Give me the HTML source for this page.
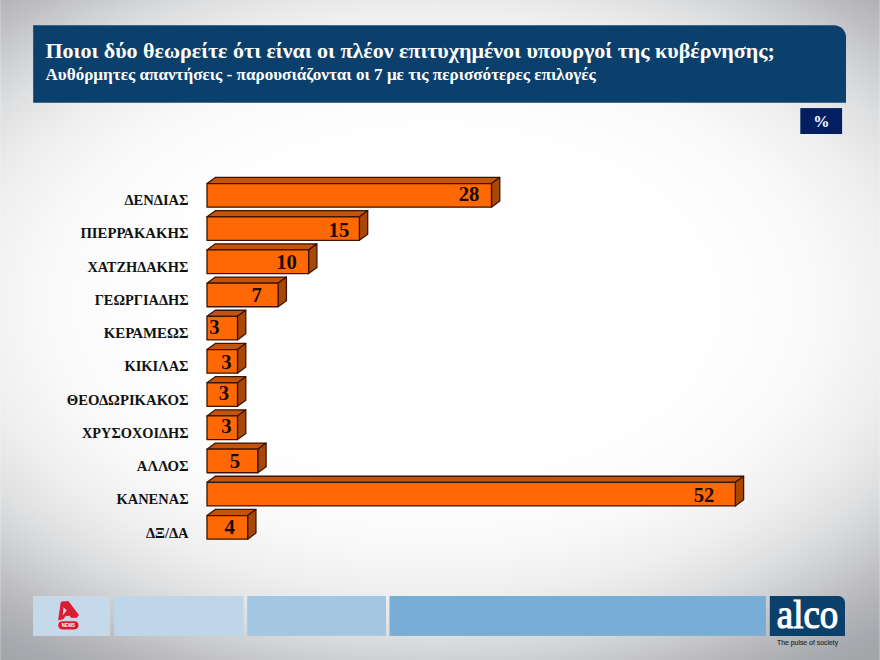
<!DOCTYPE html>
<html lang="el"><head><meta charset="utf-8"><title>alco</title>
<style>
html,body{margin:0;padding:0;}
body{width:880px;height:660px;overflow:hidden;position:relative;font-family:"Liberation Serif",serif;
background:
 radial-gradient(ellipse 440px 276.7px at 433.3px 302.6px, #ffffff 0%, #ffffff 40%, #ffffff 45%, #ffffff 50%, #fefeff 55%, #fefefe 60%, #fefefe 65%, #fdfdfd 70%, #fcfcfc 75%, #fbfbfb 80%, #fafafa 85%, #f8f8f8 90%, #f5f5f6 95%, #f2f2f3 100%, #efeff0 105%, #eaeaeb 110%, #e5e5e6 115%, #dedfe0 120%, #d7d8da 125%, #cfd0d2 130%, #c7c8ca 135%, #bfbfc2 140%, #b7b7bb 145%, #afb0b4 150%, #a9aaaf 155%, #a5a6aa 160%, #a2a3a7 165%, #a0a1a6 170%, #9fa0a4 175%, #9e9fa4 180%, #9e9fa4 185%);
}
svg{position:absolute;left:0;top:0;}
.v{font:bold 20.7px "Liberation Serif",serif;fill:#1a0800;}
.l{font:bold 14.6px "Liberation Serif",serif;fill:#111;}
.t1{font:bold 22px "Liberation Serif",serif;fill:#fff;}
.t2{font:bold 17.1px "Liberation Serif",serif;fill:#fff;}
.pc{font:bold 16.3px "Liberation Serif",serif;fill:#fff;}
.alco{font:39px "Liberation Serif",serif;fill:#fff;stroke:#fff;stroke-width:1.1px;}
.pulse{font:6.85px "Liberation Sans",sans-serif;fill:#2a2a2c;stroke:#2a2a2c;stroke-width:0.15px;}
</style></head><body>
<svg width="880" height="660" viewBox="0 0 880 660">
<rect x="0" y="0" width="1.2" height="660" fill="#ffffff" fill-opacity="0.2"/>
<rect x="878.8" y="0" width="1.2" height="660" fill="#ffffff" fill-opacity="0.2"/>
<path fill="#0b406d" d="M33.2 25.2H834A12 12 0 0 1 846 37.2V102.7H33.2Z"/>
<text class="t1" x="45.5" y="58" textLength="729.3" lengthAdjust="spacingAndGlyphs">Ποιοι δύο θεωρείτε ότι είναι οι πλέον επιτυχημένοι υπουργοί της κυβέρνησης;</text>
<text class="t2" x="45.5" y="80" textLength="550.3" lengthAdjust="spacingAndGlyphs">Αυθόρμητες απαντήσεις - παρουσιάζονται οι 7 με τις περισσότερες επιλογές</text>
<rect x="800.3" y="108.1" width="41.8" height="25.9" fill="#031f60"/>
<text class="pc" x="821.4" y="127.1" text-anchor="middle">%</text>
<g stroke="#3d1400" stroke-width="1.3" stroke-linejoin="round">
<path fill="#c5540a" d="M207.00 183.55L215.30 177.45L499.78 177.45L491.48 183.55Z"/>
<path fill="#a84806" d="M491.48 183.55L499.78 177.45L499.78 201.05L491.48 207.15Z"/>
<path fill="#ff6803" d="M207.00 183.55H491.48V207.15H207.00Z"/>
</g>
<text class="v" x="469.0" y="200.90" text-anchor="middle">28</text>
<text class="l" x="124.4" y="205.10" textLength="64.2" lengthAdjust="spacingAndGlyphs">ΔΕΝΔΙΑΣ</text>
<g stroke="#3d1400" stroke-width="1.3" stroke-linejoin="round">
<path fill="#c5540a" d="M207.00 216.75L215.30 210.65L367.70 210.65L359.40 216.75Z"/>
<path fill="#a84806" d="M359.40 216.75L367.70 210.65L367.70 234.25L359.40 240.35Z"/>
<path fill="#ff6803" d="M207.00 216.75H359.40V240.35H207.00Z"/>
</g>
<text class="v" x="338.9" y="236.60" text-anchor="middle">15</text>
<text class="l" x="80.4" y="238.34" textLength="108.2" lengthAdjust="spacingAndGlyphs">ΠΙΕΡΡΑΚΑΚΗΣ</text>
<g stroke="#3d1400" stroke-width="1.3" stroke-linejoin="round">
<path fill="#c5540a" d="M207.00 249.95L215.30 243.85L316.90 243.85L308.60 249.95Z"/>
<path fill="#a84806" d="M308.60 249.95L316.90 243.85L316.90 267.45L308.60 273.55Z"/>
<path fill="#ff6803" d="M207.00 249.95H308.60V273.55H207.00Z"/>
</g>
<text class="v" x="286.6" y="269.40" text-anchor="middle">10</text>
<text class="l" x="87.4" y="271.58" textLength="101.0" lengthAdjust="spacingAndGlyphs">ΧΑΤΖΗΔΑΚΗΣ</text>
<g stroke="#3d1400" stroke-width="1.3" stroke-linejoin="round">
<path fill="#c5540a" d="M207.00 283.15L215.30 277.05L286.42 277.05L278.12 283.15Z"/>
<path fill="#a84806" d="M278.12 283.15L286.42 277.05L286.42 300.65L278.12 306.75Z"/>
<path fill="#ff6803" d="M207.00 283.15H278.12V306.75H207.00Z"/>
</g>
<text class="v" x="256.6" y="301.60" text-anchor="middle">7</text>
<text class="l" x="94.7" y="304.82" textLength="93.9" lengthAdjust="spacingAndGlyphs">ΓΕΩΡΓΙΑΔΗΣ</text>
<g stroke="#3d1400" stroke-width="1.3" stroke-linejoin="round">
<path fill="#c5540a" d="M207.00 316.35L215.30 310.25L245.78 310.25L237.48 316.35Z"/>
<path fill="#a84806" d="M237.48 316.35L245.78 310.25L245.78 333.85L237.48 339.95Z"/>
<path fill="#ff6803" d="M207.00 316.35H237.48V339.95H207.00Z"/>
</g>
<text class="v" x="214.4" y="333.60" text-anchor="middle">3</text>
<text class="l" x="103.7" y="338.06" textLength="84.9" lengthAdjust="spacingAndGlyphs">ΚΕΡΑΜΕΩΣ</text>
<g stroke="#3d1400" stroke-width="1.3" stroke-linejoin="round">
<path fill="#c5540a" d="M207.00 349.55L215.30 343.45L245.78 343.45L237.48 349.55Z"/>
<path fill="#a84806" d="M237.48 349.55L245.78 343.45L245.78 367.05L237.48 373.15Z"/>
<path fill="#ff6803" d="M207.00 349.55H237.48V373.15H207.00Z"/>
</g>
<text class="v" x="226.5" y="369.05" text-anchor="middle">3</text>
<text class="l" x="124.4" y="371.30" textLength="64.2" lengthAdjust="spacingAndGlyphs">ΚΙΚΙΛΑΣ</text>
<g stroke="#3d1400" stroke-width="1.3" stroke-linejoin="round">
<path fill="#c5540a" d="M207.00 382.75L215.30 376.65L245.78 376.65L237.48 382.75Z"/>
<path fill="#a84806" d="M237.48 382.75L245.78 376.65L245.78 400.25L237.48 406.35Z"/>
<path fill="#ff6803" d="M207.00 382.75H237.48V406.35H207.00Z"/>
</g>
<text class="v" x="224.0" y="400.00" text-anchor="middle">3</text>
<text class="l" x="66.7" y="404.54" textLength="121.9" lengthAdjust="spacingAndGlyphs">ΘΕΟΔΩΡΙΚΑΚΟΣ</text>
<g stroke="#3d1400" stroke-width="1.3" stroke-linejoin="round">
<path fill="#c5540a" d="M207.00 415.95L215.30 409.85L245.78 409.85L237.48 415.95Z"/>
<path fill="#a84806" d="M237.48 415.95L245.78 409.85L245.78 433.45L237.48 439.55Z"/>
<path fill="#ff6803" d="M207.00 415.95H237.48V439.55H207.00Z"/>
</g>
<text class="v" x="226.4" y="433.30" text-anchor="middle">3</text>
<text class="l" x="82" y="437.78" textLength="106.6" lengthAdjust="spacingAndGlyphs">ΧΡΥΣΟΧΟΙΔΗΣ</text>
<g stroke="#3d1400" stroke-width="1.3" stroke-linejoin="round">
<path fill="#c5540a" d="M207.00 449.15L215.30 443.05L266.10 443.05L257.80 449.15Z"/>
<path fill="#a84806" d="M257.80 449.15L266.10 443.05L266.10 466.65L257.80 472.75Z"/>
<path fill="#ff6803" d="M207.00 449.15H257.80V472.75H207.00Z"/>
</g>
<text class="v" x="234.8" y="468.10" text-anchor="middle">5</text>
<text class="l" x="136.8" y="471.02" textLength="51.8" lengthAdjust="spacingAndGlyphs">ΑΛΛΟΣ</text>
<g stroke="#3d1400" stroke-width="1.3" stroke-linejoin="round">
<path fill="#c5540a" d="M207.00 482.35L215.30 476.25L743.62 476.25L735.32 482.35Z"/>
<path fill="#a84806" d="M735.32 482.35L743.62 476.25L743.62 499.85L735.32 505.95Z"/>
<path fill="#ff6803" d="M207.00 482.35H735.32V505.95H207.00Z"/>
</g>
<text class="v" x="704.1" y="502.00" text-anchor="middle">52</text>
<text class="l" x="116.5" y="504.26" textLength="72.1" lengthAdjust="spacingAndGlyphs">ΚΑΝΕΝΑΣ</text>
<g stroke="#3d1400" stroke-width="1.3" stroke-linejoin="round">
<path fill="#c5540a" d="M207.00 515.55L215.30 509.45L255.94 509.45L247.64 515.55Z"/>
<path fill="#a84806" d="M247.64 515.55L255.94 509.45L255.94 533.05L247.64 539.15Z"/>
<path fill="#ff6803" d="M207.00 515.55H247.64V539.15H207.00Z"/>
</g>
<text class="v" x="229.6" y="533.80" text-anchor="middle">4</text>
<text class="l" x="145.9" y="537.50" textLength="42.7" lengthAdjust="spacingAndGlyphs">ΔΞ/ΔΑ</text>
<rect x="33.1" y="596" width="76.9" height="39.9" fill="#c5d9eb"/>
<rect x="114.1" y="596" width="129.3" height="39.9" fill="#bfd5ea"/>
<rect x="247.2" y="596" width="138.8" height="39.9" fill="#a3c7e3"/>
<rect x="389.5" y="596" width="376.4" height="39.9" fill="#78add5"/>
<path fill="#0b3f6c" d="M769.8 596H838.5A6.5 6.5 0 0 1 845 602.5V635.9H769.8Z"/>
<text class="alco" x="776.8" y="628.4" textLength="61.4" lengthAdjust="spacingAndGlyphs">alco</text>
<text class="pulse" x="777" y="645" textLength="61.1" lengthAdjust="spacingAndGlyphs">The pulse of society</text>
<!-- alpha news logo -->
<g fill="#d81e2f">
<path d="M61.2 602.0L68.4 601.5L78.5 615.0L77.0 617.3L71.3 617.6L69.6 615.3L65.0 615.9L63.5 618.7L58.6 619.9Z" stroke="#d81e2f" stroke-width="0.8" stroke-linejoin="round"/>
<rect x="58.3" y="621.3" width="20.2" height="8.1" rx="4.05"/>
</g>
<path fill="#f4cfd5" d="M63.5 607.2L66.7 610.4L62.7 615.6Z"/>
<text x="68.4" y="627.0" text-anchor="middle" textLength="13.2" lengthAdjust="spacingAndGlyphs" style="font:bold 5px 'Liberation Sans',sans-serif;fill:#fff">NEWS</text>
</svg>
</body></html>
